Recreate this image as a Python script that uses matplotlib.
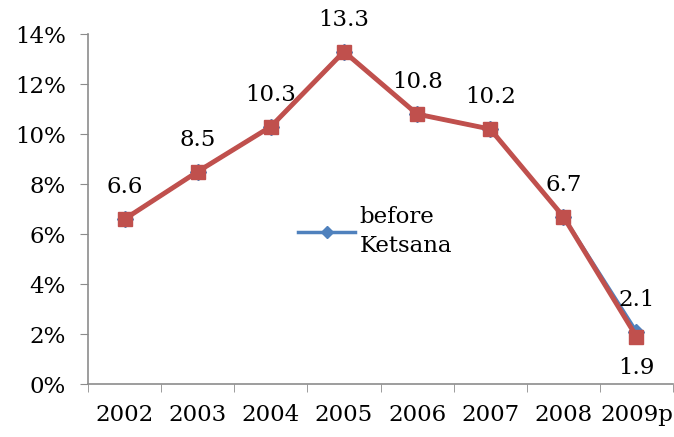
import matplotlib.pyplot as plt
from matplotlib.ticker import FuncFormatter

years = ["2002", "2003", "2004", "2005", "2006", "2007", "2008", "2009p"]
before_ketsana = [6.6, 8.5, 10.3, 13.3, 10.8, 10.2, 6.7, 2.1]
after_ketsana = [6.6, 8.5, 10.3, 13.3, 10.8, 10.2, 6.7, 1.9]

plt.rcParams['font.family'] = ['DejaVu Serif']
grey = '#8c8c8c'
fs = 16.5

fig = plt.figure(figsize=(6.74, 4.37), dpi=100)
ax = fig.add_axes([0.1306, 0.121, 0.868, 0.801])

x = list(range(len(years)))
ax.plot(x, before_ketsana, color='#4F81BD', lw=2.5, marker='D', markersize=8,
        label='before\nKetsana', zorder=2)
ax.plot(x, after_ketsana, color='#C0504D', lw=3.5, marker='s', markersize=10,
        label='_after', zorder=3)

# data labels
for i, v in enumerate(before_ketsana):
    ax.annotate(f"{v}", (i, v), xytext=(0, 15), textcoords='offset points',
                ha='center', va='bottom', fontsize=fs)
ax.annotate(f"{after_ketsana[-1]}", (len(years) - 1, after_ketsana[-1]),
            xytext=(0, -15), textcoords='offset points',
            ha='center', va='top', fontsize=fs)

ax.set_xlim(-0.5, len(years) - 0.5)
ax.set_ylim(0, 14)
ax.set_yticks(range(0, 15, 2))
ax.yaxis.set_major_formatter(FuncFormatter(lambda v, p: f"{int(v)}%"))
ax.set_xticks(x)
ax.set_xticklabels(years)
ax.set_xticks([i - 0.5 for i in range(len(years) + 1)], minor=True)
ax.tick_params(axis='x', which='major', length=0, pad=14, labelsize=fs)
ax.tick_params(axis='x', which='minor', length=6, color=grey, direction='out')
ax.tick_params(axis='y', length=6, color=grey, labelsize=fs, pad=10)

for s in ['top', 'right']:
    ax.spines[s].set_visible(False)
for s in ['left', 'bottom']:
    ax.spines[s].set_color(grey)
    ax.spines[s].set_linewidth(1.2)

leg = ax.legend(loc='center left', bbox_to_anchor=(0.425, 0.47),
                bbox_transform=fig.transFigure, frameon=False, fontsize=fs,
                handlelength=2.5, handletextpad=0.2, borderpad=0,
                markerscale=0.8)
for t in leg.get_texts():
    t.set_linespacing(1.45)

fig.savefig('out.png', dpi=100, facecolor='white')
